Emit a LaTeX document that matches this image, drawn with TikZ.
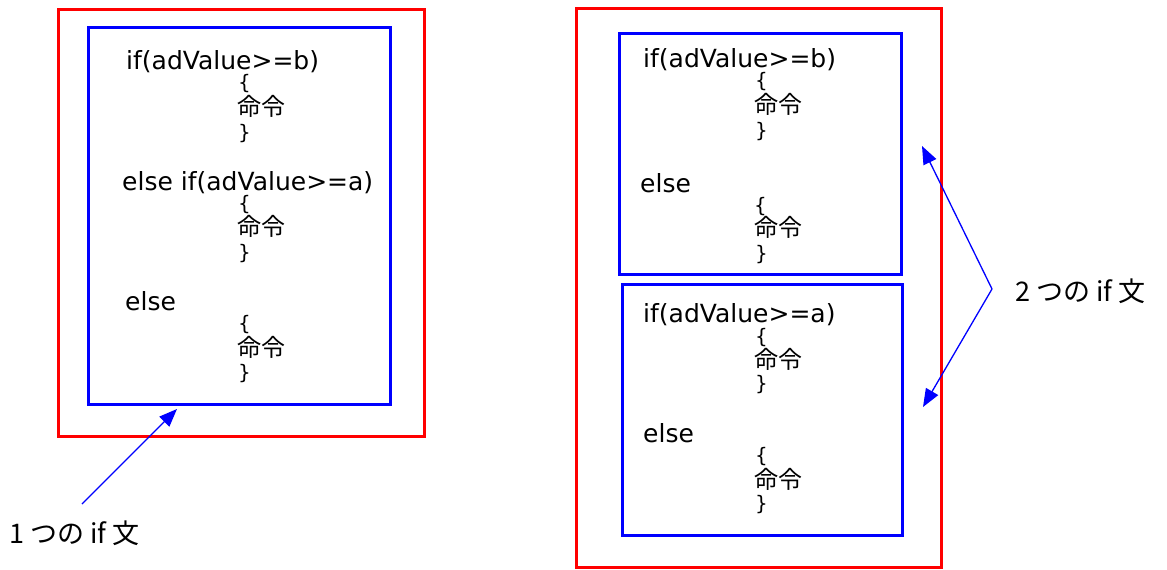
\documentclass[tikz,border=0pt]{standalone}
\usepackage{fontspec}
\setmainfont{DejaVu Sans}
\newfontfamily\jp{Noto Sans CJK JP}
\usetikzlibrary{arrows.meta}
\begin{document}
\begin{tikzpicture}[x=1pt,y=-1pt,
 code/.style={anchor=base west,inner sep=0pt,font=\fontsize{25}{25}\selectfont},
 brc/.style={anchor=base west,inner sep=0pt,font=\fontsize{20}{20}\selectfont},
 cjk/.style={anchor=base west,inner sep=0pt,font=\jp\fontsize{24}{24}\selectfont},
 redbox/.style={draw=red,line width=3pt},
 bluebox/.style={draw=blue,line width=3pt},
 lbl/.style={anchor=base west,inner sep=0pt,font=\jp\fontsize{27}{27}\selectfont},
 arr/.style={draw=blue,line width=1.3pt,-{Triangle[length=18pt,width=14pt]}}]
\useasboundingbox (0,0) rectangle (1167,570);
\fill[white] (0,0) rectangle (1167,570);
% boxes
\draw[redbox] (58,9) rectangle (424,436);
\draw[bluebox] (88,27) rectangle (390,404);
\draw[redbox] (576,8) rectangle (941,567);
\draw[bluebox] (619,33) rectangle (901,274);
\draw[bluebox] (622,284) rectangle (902,535);
% left code
\node[code] (l1) at (126,69) {if(adValue>=b)};
\node[brc]  (l2) at (238,89) {\{};
\node[cjk]  (l3) at (237,115) {命令};
\node[brc]  (l4) at (238,139) {\}};
\node[code] (l5) at (122,190) {else if(adValue>=a)};
\node[brc]  (l6) at (238,210) {\{};
\node[cjk]  (l7) at (237,235) {命令};
\node[brc]  (l8) at (238,259) {\}};
\node[code] (l9) at (125,310) {else};
\node[brc]  (l10) at (238,330) {\{};
\node[cjk]  (l11) at (237,356) {命令};
\node[brc]  (l12) at (238,379) {\}};
% right upper code
\node[code] (r1) at (643,67) {if(adValue>=b)};
\node[brc]  (r2) at (755,87) {\{};
\node[cjk]  (r3) at (754,113) {命令};
\node[brc]  (r4) at (755,137) {\}};
\node[code] (r5) at (640,192) {else};
\node[brc]  (r6) at (754,212) {\{};
\node[cjk]  (r7) at (754,236) {命令};
\node[brc]  (r8) at (755,260) {\}};
% right lower code
\node[code] (s1) at (643,322) {if(adValue>=a)};
\node[brc]  (s2) at (755,343) {\{};
\node[cjk]  (s3) at (754,368) {命令};
\node[brc]  (s4) at (755,390) {\}};
\node[code] (s5) at (643,442) {else};
\node[brc]  (s6) at (755,462) {\{};
\node[cjk]  (s7) at (754,488) {命令};
\node[brc]  (s8) at (755,510) {\}};
% labels
\node[lbl] (one) at (9,543) {1 つの if 文};
\node[lbl] (two) at (1015,301) {2 つの if 文};
% arrows
\coordinate (a1s) at (82,504);
\coordinate (a1t) at (177,409);
\coordinate (v) at (992,289);
\coordinate (a2t) at (922,146);
\coordinate (a3t) at (923,407);
\draw[arr] (a1s) -- (a1t);
\draw[arr] (v) -- (a2t);
\draw[arr] (v) -- (a3t);
\end{tikzpicture}
\end{document}
